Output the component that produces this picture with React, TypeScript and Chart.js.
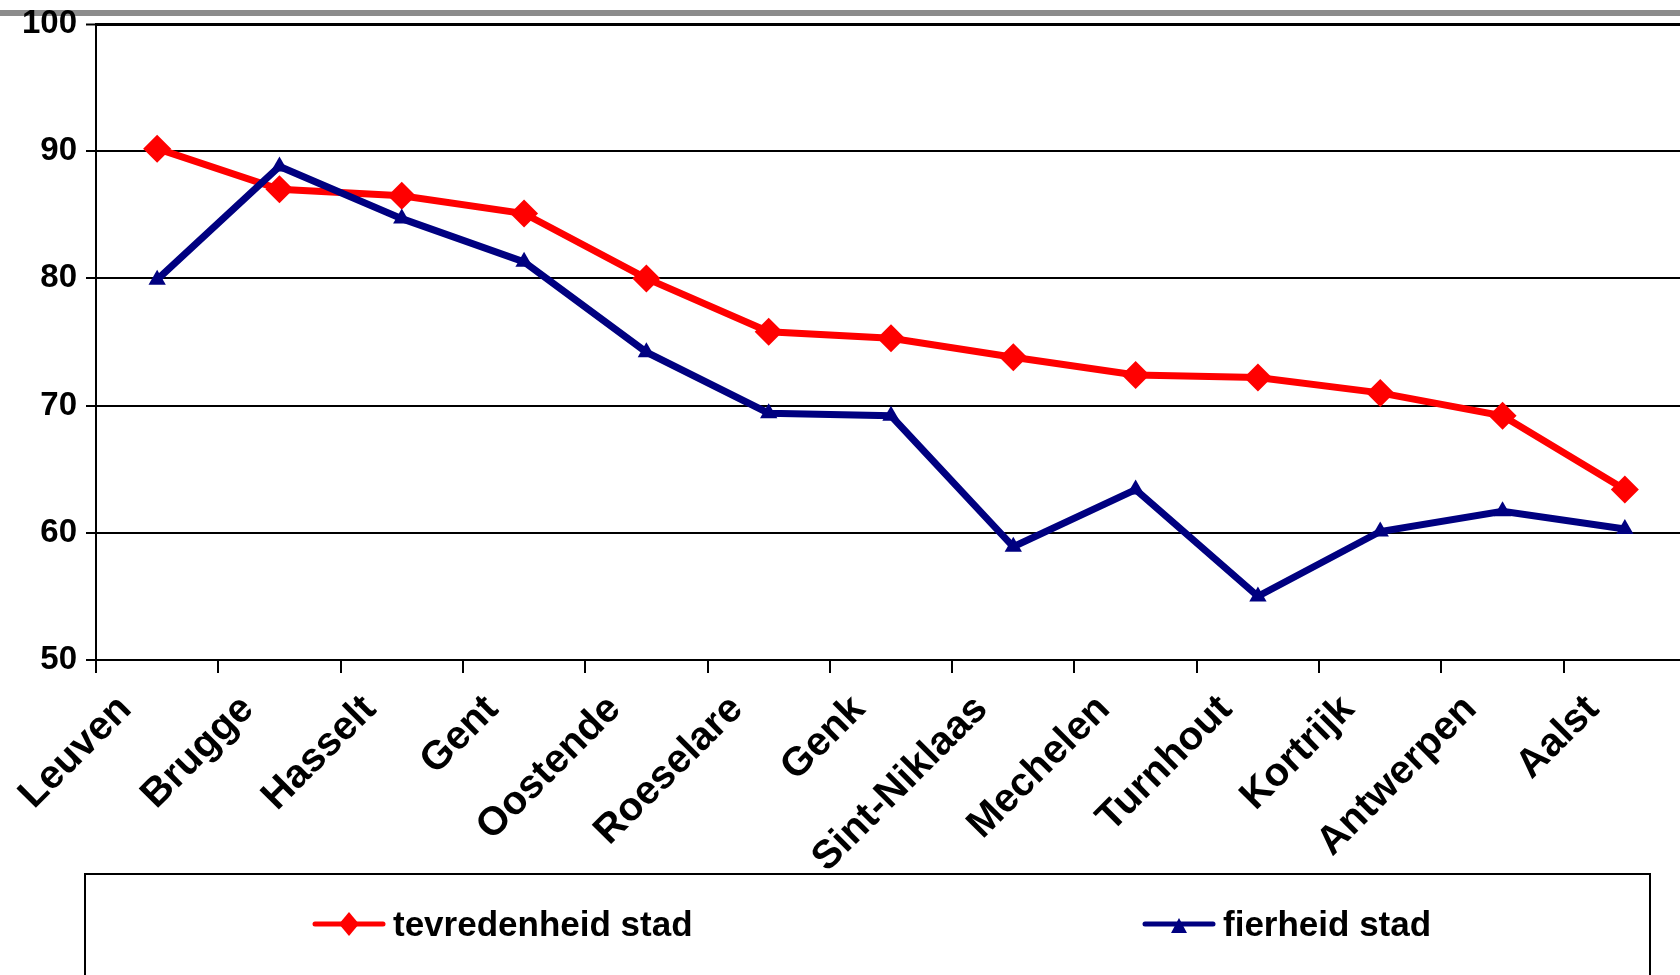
import React, { useEffect, useRef } from "react";
import { Chart, registerables } from "chart.js";

Chart.register(...registerables);

const categories = [
  "Leuven",
  "Brugge",
  "Hasselt",
  "Gent",
  "Oostende",
  "Roeselare",
  "Genk",
  "Sint-Niklaas",
  "Mechelen",
  "Turnhout",
  "Kortrijk",
  "Antwerpen",
  "Aalst",
];
const tevredenheid = [90.2, 87.0, 86.5, 85.1, 80.0, 75.8, 75.3, 73.8, 72.4, 72.2, 71.0, 69.2, 63.4];
const fierheid = [79.9, 88.8, 84.7, 81.3, 74.2, 69.4, 69.2, 58.9, 63.4, 55.0, 60.1, 61.7, 60.3];
const seriesLabels = ["tevredenheid stad", "fierheid stad"];
const yMin = 50;
const yMax = 100;
const yStep = 10;

const FONT = '"Liberation Sans", Arial, sans-serif';
const RED = "#FF0000";
const NAVY = "#000080";

const framePlugin = {
  id: "frame",
  beforeDraw(chart: any) {
    const ctx = chart.ctx;
    ctx.save();
    ctx.fillStyle = "#ffffff";
    ctx.fillRect(0, 0, chart.width, chart.height);
    ctx.fillStyle = "#8c8c8c";
    ctx.fillRect(0, 10, chart.width, 6);
    ctx.restore();
  },
};

const LEGEND_X = [315, 1145];
const legendPlugin = {
  id: "excelLegend",
  afterDraw(chart: any) {
    const ctx = chart.ctx;
    ctx.save();
    ctx.strokeStyle = "#000";
    ctx.lineWidth = 2;
    ctx.strokeRect(85, 874, 1565, 160);
    chart.data.datasets.forEach((ds: any, i: number) => {
      const x0 = LEGEND_X[i];
      const y = 924;
      const color = ds.borderColor;
      ctx.strokeStyle = color;
      ctx.lineWidth = 5;
      ctx.lineCap = "round";
      ctx.beginPath();
      ctx.moveTo(x0, y);
      ctx.lineTo(x0 + 68, y);
      ctx.stroke();
      ctx.fillStyle = color;
      const cx = x0 + 34;
      ctx.beginPath();
      if (ds.pointStyle === "rectRot") {
        ctx.moveTo(cx, y - 12);
        ctx.lineTo(cx + 10, y);
        ctx.lineTo(cx, y + 12);
        ctx.lineTo(cx - 10, y);
      } else {
        ctx.moveTo(cx, y - 6);
        ctx.lineTo(cx + 8, y + 9);
        ctx.lineTo(cx - 8, y + 9);
      }
      ctx.closePath();
      ctx.fill();
      ctx.fillStyle = "#000";
      ctx.font = `bold 35px ${FONT}`;
      ctx.textBaseline = "middle";
      ctx.textAlign = "left";
      ctx.fillText(ds.label, x0 + 78, y + 2);
    });
    ctx.restore();
  },
};

export default function App() {
  const ref = useRef<HTMLCanvasElement | null>(null);

  useEffect(() => {
    if (!ref.current) return;
    const chart = new Chart(ref.current, {
      type: "line",
      data: {
        labels: categories,
        datasets: [
          {
            label: seriesLabels[0],
            data: tevredenheid,
            borderColor: RED,
            backgroundColor: RED,
            borderWidth: 7,
            pointStyle: "rectRot",
            pointRadius: 14,
            pointBackgroundColor: RED,
            pointBorderColor: RED,
            pointBorderWidth: 0,
            tension: 0,
            order: 1,
          } as any,
          {
            label: seriesLabels[1],
            data: fierheid,
            borderColor: NAVY,
            backgroundColor: NAVY,
            borderWidth: 7,
            pointStyle: "triangle",
            pointRadius: 10,
            pointBackgroundColor: NAVY,
            pointBorderColor: NAVY,
            pointBorderWidth: 0,
            tension: 0,
            order: 0,
          } as any,
        ],
      },
      options: {
        animation: false,
        responsive: false,
        devicePixelRatio: 1,
        events: [],
        layout: { padding: { left: 0, right: 10, top: 24, bottom: 0 } },
        plugins: {
          legend: { display: false },
          tooltip: { enabled: false },
          title: { display: false },
        },
        scales: {
          x: {
            type: "category",
            offset: true,
            grid: {
              display: true,
              drawOnChartArea: false,
              drawTicks: true,
              offset: true,
              tickLength: 13,
              tickColor: "#000",
              tickWidth: 2,
              color: "#000",
              lineWidth: 2,
            },
            border: { display: true, color: "#000", width: 2 },
            ticks: {
              autoSkip: false,
              minRotation: 45,
              maxRotation: 45,
              padding: 13,
              labelOffset: -32,
              color: "#000",
              font: { family: FONT, size: 40, weight: "bold" },
            },
            afterFit: (s: any) => {
              s.height = 315;
            },
          },
          y: {
            min: yMin,
            max: yMax,
            grid: {
              color: "#000",
              lineWidth: (c: any) => (c.tick && c.tick.value === yMax ? 3 : 2),
              drawTicks: true,
              tickLength: 10,
              tickColor: "#000",
              tickWidth: 2,
            },
            border: { display: true, color: "#000", width: 2 },
            ticks: {
              stepSize: yStep,
              padding: 9,
              color: "#000",
              font: { family: FONT, size: 33, weight: "bold" },
            },
            afterFit: (s: any) => {
              s.width = 96;
              s.paddingTop = 0;
              s.paddingBottom = 0;
            },
          },
        },
      },
      plugins: [framePlugin, legendPlugin],
    });
    return () => chart.destroy();
  }, []);

  return (
    <div
      style={{
        position: "fixed",
        left: 0,
        top: 0,
        width: 1680,
        height: 975,
        overflow: "hidden",
        background: "#fff",
      }}
    >
      <canvas ref={ref} width={1700} height={975} style={{ display: "block", width: 1700, height: 975 }} />
    </div>
  );
}
